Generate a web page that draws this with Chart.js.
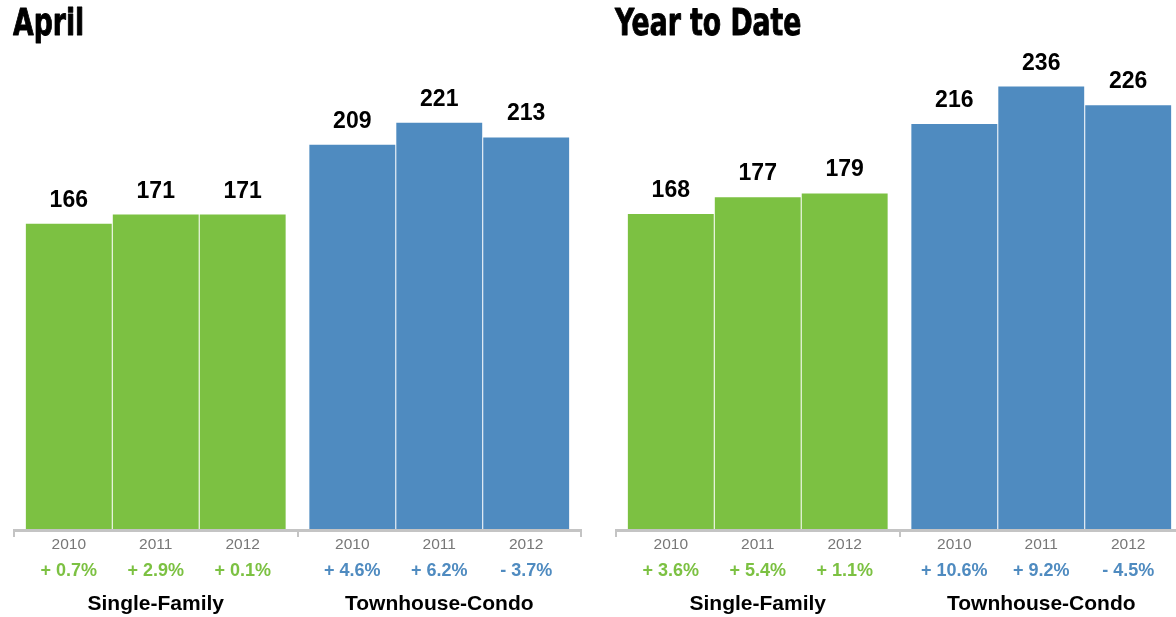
<!DOCTYPE html>
<html><head><meta charset="utf-8">
<script src="https://cdn.jsdelivr.net/npm/chart.js@4"></script>
<style>
html,body{margin:0;padding:0;background:#fff;width:1176px;height:617px;overflow:hidden;}
.wrap{position:absolute;top:0;width:600px;height:617px;}
canvas{display:block;}
</style></head><body>
<div class="wrap" style="left:0"><canvas id="c1" width="600" height="617"></canvas></div>
<div class="wrap" style="left:600px"><canvas id="c2" width="600" height="617"></canvas></div>
<script>
const categories = ['Single-Family', 'Townhouse-Condo'];
const years = ['2010', '2011', '2012'];
const aprilSingleFamily = [166, 171, 171];
const aprilTownhouseCondo = [209, 221, 213];
const aprilSingleFamilyChange = ['+ 0.7%', '+ 2.9%', '+ 0.1%'];
const aprilTownhouseCondoChange = ['+ 4.6%', '+ 6.2%', '- 3.7%'];
const ytdSingleFamily = [168, 177, 179];
const ytdTownhouseCondo = [216, 236, 226];
const ytdSingleFamilyChange = ['+ 3.6%', '+ 5.4%', '+ 1.1%'];
const ytdTownhouseCondoChange = ['+ 10.6%', '+ 9.2%', '- 4.5%'];

const GREEN = '#7cc142';
const BLUE = '#4f8bc0';
const catColors = [GREEN, BLUE];
const SANS = '"Liberation Sans", Arial, Helvetica, sans-serif';
const NARROW = '"DejaVu Sans Condensed", "DejaVu Sans", sans-serif';

const labelsPlugin = {
  id: 'labels',
  afterDatasetsDraw(chart, args, opts) {
    const ctx = chart.ctx;
    const xs = chart.scales.x;
    const area = chart.chartArea;
    ctx.save();
    // axis line and group tick marks
    ctx.fillStyle = '#c4c4c4';
    ctx.fillRect(area.left, area.bottom, area.right - area.left, 3);
    const p0 = xs.getPixelForValue(0), p1 = xs.getPixelForValue(1);
    const half = (p1 - p0) / 2;
    [p0 - half, p0 + half, p1 + half].forEach(b => ctx.fillRect(Math.round(b) - 1, area.bottom, 2, 8));
    ctx.textAlign = 'center';
    ctx.textBaseline = 'alphabetic';
    chart.data.datasets.forEach((ds, di) => {
      const meta = chart.getDatasetMeta(di);
      meta.data.forEach((bar, i) => {
        ctx.fillStyle = '#000';
        ctx.font = 'bold 23px ' + SANS;
        ctx.fillText(String(ds.data[i]), bar.x, bar.y - 17);
        ctx.fillStyle = '#777';
        ctx.font = '15.5px ' + SANS;
        ctx.fillText(ds.label, bar.x, area.bottom + 20);
        ctx.fillStyle = catColors[i];
        ctx.font = 'bold 18px ' + SANS;
        ctx.fillText(opts.changes[i][di], bar.x, area.bottom + 47);
      });
    });
    ctx.fillStyle = '#000';
    ctx.font = 'bold 21px ' + SANS;
    categories.forEach((c, i) => ctx.fillText(c, xs.getPixelForValue(i), area.bottom + 81));
    // title (condensed heavy look)
    ctx.textAlign = 'left';
    ctx.font = 'bold 38px ' + NARROW;
    ctx.translate(area.left - 1, 35);
    ctx.scale(0.78, 1);
    ctx.strokeStyle = '#000';
    ctx.lineWidth = 0.9;
    ctx.lineJoin = 'round';
    ctx.strokeText(opts.title, 0, 0);
    ctx.fillText(opts.title, 0, 0);
    ctx.restore();
  }
};

function makeChart(id, title, sf, tc, sfChange, tcChange, yMax, padLeft, padRight) {
  const datasets = years.map((y, yi) => ({
    label: y,
    data: [sf[yi], tc[yi]],
    backgroundColor: catColors,
    borderWidth: 0
  }));
  return new Chart(document.getElementById(id), {
    type: 'bar',
    data: { labels: categories, datasets },
    options: {
      responsive: false,
      animation: false,
      layout: { padding: { left: padLeft, right: padRight, top: 51, bottom: 88 } },
      datasets: { bar: { categoryPercentage: 0.92, barPercentage: 0.988 } },
      scales: {
        x: { display: false, offset: true },
        y: { display: false, min: 0, max: yMax }
      },
      plugins: {
        legend: { display: false },
        tooltip: { enabled: false },
        labels: { title, changes: [sfChange, tcChange] }
      }
    },
    plugins: [labelsPlugin]
  });
}

makeChart('c1', 'April', aprilSingleFamily, aprilTownhouseCondo, aprilSingleFamilyChange, aprilTownhouseCondoChange, 260, 14, 19);
makeChart('c2', 'Year to Date', ytdSingleFamily, ytdTownhouseCondo, ytdSingleFamilyChange, ytdTownhouseCondoChange, 255, 16, 17);
</script>
</body></html>
